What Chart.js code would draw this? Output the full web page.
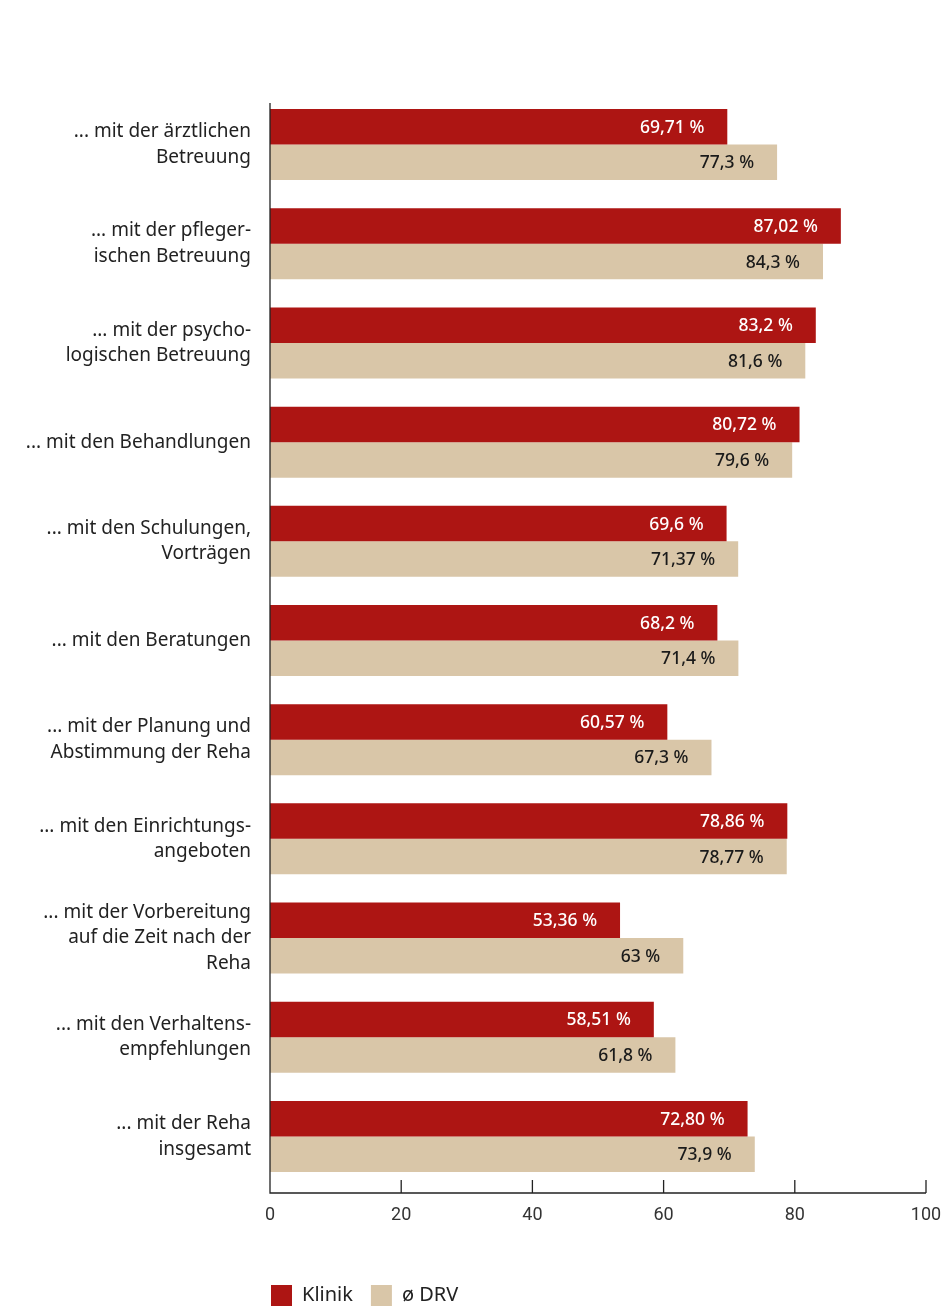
<!DOCTYPE html>
<html>
<head>
<meta charset="utf-8">
<script src="https://cdn.jsdelivr.net/npm/chart.js@4/dist/chart.umd.min.js"></script>
<style>
    html, body { margin: 0; padding: 0; background: #fff; }
    #wrap { width: 942px; height: 1308px; position: relative; }
</style>
</head>
<body>
<div id="wrap"><canvas id="chart"></canvas></div>
<script>
const categories = [
    ["... mit der ärztlichen", "Betreuung"],
    ["... mit der pfleger-", "ischen Betreuung"],
    ["... mit der psycho-", "logischen Betreuung"],
    ["... mit den Behandlungen"],
    ["... mit den Schulungen,", "Vorträgen"],
    ["... mit den Beratungen"],
    ["... mit der Planung und", "Abstimmung der Reha"],
    ["... mit den Einrichtungs-", "angeboten"],
    ["... mit der Vorbereitung", "auf die Zeit nach der", "Reha"],
    ["... mit den Verhaltens-", "empfehlungen"],
    ["... mit der Reha", "insgesamt"]
];
const klinikValues = [69.71, 87.02, 83.2, 80.72, 69.6, 68.2, 60.57, 78.86, 53.36, 58.51, 72.80];
const klinikLabels = ["69,71 %", "87,02 %", "83,2 %", "80,72 %", "69,6 %", "68,2 %", "60,57 %", "78,86 %", "53,36 %", "58,51 %", "72,80 %"];
const drvValues = [77.3, 84.3, 81.6, 79.6, 71.37, 71.4, 67.3, 78.77, 63, 61.8, 73.9];
const drvLabels = ["77,3 %", "84,3 %", "81,6 %", "79,6 %", "71,37 %", "71,4 %", "67,3 %", "78,77 %", "63 %", "61,8 %", "73,9 %"];
const xTicks = [0, 20, 40, 60, 80, 100];

const FONT = "'Noto Sans', 'Open Sans', sans-serif";
const RED = "#ad1513";
const BEIGE = "#d9c6a8";
const AXIS_OFFSET = 7;

// value labels drawn inside the bar ends
const barLabels = {
    id: "barLabels",
    afterDatasetsDraw(chart) {
        const ctx = chart.ctx;
        ctx.save();
        ctx.font = "500 17.5px " + FONT;
        ctx.textAlign = "right";
        ctx.textBaseline = "middle";
        chart.data.datasets.forEach((ds, i) => {
            chart.getDatasetMeta(i).data.forEach((bar, j) => {
                ctx.fillStyle = ds.labelColor;
                ctx.fillText(ds.valueLabels[j], bar.x - 23, bar.y + 1);
            });
        });
        ctx.restore();
    }
};

// axis lines and inward tick marks below the bars
const axisLines = {
    id: "axisLines",
    afterLayout(chart) {
        // legend starts under the plot, not at the canvas edge
        chart.legend.left = chart.chartArea.left - 17;
    },
    afterDraw(chart) {
        const { ctx, chartArea, scales } = chart;
        const yBase = chartArea.bottom + AXIS_OFFSET;
        ctx.save();
        ctx.strokeStyle = "#222";
        ctx.lineWidth = 1.3;
        ctx.beginPath();
        ctx.moveTo(chartArea.left, 103);
        ctx.lineTo(chartArea.left, yBase);
        ctx.lineTo(scales.x.getPixelForValue(100), yBase);
        xTicks.forEach((v) => {
            const px = scales.x.getPixelForValue(v);
            ctx.moveTo(px, yBase - 13);
            ctx.lineTo(px, yBase);
        });
        ctx.stroke();
        ctx.restore();
    }
};

new Chart(document.getElementById("chart"), {
    type: "bar",
    data: {
        labels: categories,
        datasets: [
            {
                label: "Klinik",
                data: klinikValues,
                valueLabels: klinikLabels,
                labelColor: "#ffffff",
                backgroundColor: RED,
                categoryPercentage: 0.716,
                barPercentage: 1
            },
            {
                label: "ø DRV",
                data: drvValues,
                valueLabels: drvLabels,
                labelColor: "#1a1a1a",
                backgroundColor: BEIGE,
                categoryPercentage: 0.716,
                barPercentage: 1
            }
        ]
    },
    options: {
        indexAxis: "y",
        responsive: true,
        maintainAspectRatio: false,
        animation: false,
        layout: {
            padding: { top: 95, right: 16, bottom: -8, left: 0 }
        },
        plugins: {
            tooltip: { enabled: false },
            legend: {
                position: "bottom",
                align: "start",
                labels: {
                    boxWidth: 21,
                    boxHeight: 21,
                    padding: 18,
                    color: "#222",
                    font: { family: FONT, size: 20 }
                }
            }
        },
        scales: {
            x: {
                min: 0,
                max: 100,
                afterBuildTicks: (scale) => {
                    scale.ticks = xTicks.map((v) => ({ value: v }));
                },
                afterFit: (scale) => {
                    scale.height = 81;
                    scale.paddingLeft = 0;
                    scale.paddingRight = 0;
                },
                grid: { display: false, drawTicks: false },
                border: { display: false },
                ticks: {
                    color: "#333",
                    padding: 19,
                    maxRotation: 0,
                    font: { family: "Roboto, 'Liberation Sans', sans-serif", size: 18 }
                }
            },
            y: {
                afterFit: (scale) => {
                    scale.width = 270;
                },
                grid: { display: false, drawTicks: false },
                border: { display: false },
                ticks: {
                    color: "#222",
                    padding: 19,
                    autoSkip: false,
                    font: { family: FONT, size: 19, lineHeight: 1.34 }
                }
            }
        }
    },
    plugins: [barLabels, axisLines]
});
</script>
</body>
</html>
